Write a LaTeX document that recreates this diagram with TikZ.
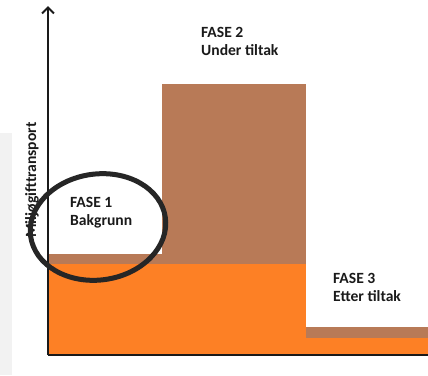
\documentclass[tikz,border=0pt]{standalone}
\usepackage{fontspec}
\setmainfont{Carlito}
\usetikzlibrary{arrows.meta}
\definecolor{panelgrey}{HTML}{F2F2F2}
\definecolor{barbrown}{HTML}{B87A57}
\definecolor{barorange}{HTML}{FD8025}
\definecolor{axisink}{HTML}{1A1A1A}
\definecolor{ringink}{HTML}{262626}
\definecolor{textmain}{HTML}{1A1A1A}

\begin{document}
\begin{tikzpicture}[
  x=1pt, y=-1pt,
  every node/.style={font=\fontsize{15.6}{18}\selectfont\bfseries, text=textmain, inner sep=0pt},
  phase/.style={anchor=base west, align=left},
  axis/.style={axisink, line width=2pt},
]
\useasboundingbox (0, 0) rectangle (428, 375);

% Grey strip at the left edge
\fill[panelgrey] (0, 133) rectangle (12, 375);

% Orange part of the bars
\fill[barorange] (48, 264) rectangle (306, 355);
\fill[barorange] (306, 338) rectangle (428, 355);

% Brown part of the bars
\fill[barbrown] (48, 254) rectangle (162, 264);
\fill[barbrown] (162, 84) rectangle (306, 264);
\fill[barbrown] (306, 327) rectangle (428, 338);

% Axes
\coordinate (origin) at (48, 355);
\coordinate (ytop) at (48, 6);
\coordinate (xend) at (428, 355);
\draw[axis, -{Straight Barb[length=6pt, width=12pt]}] (origin) -- (ytop);
\draw[axis, line width=2.5pt] (origin) -- (xend);

% Axis label
\node[rotate=90, anchor=base] (ylabel) at (36, 180) {Miljøgifttransport};

% Phase labels
\node[phase] (fase1) at (70, 225) {FASE 1\\Bakgrunn};
\node[phase] (fase2) at (201, 55) {FASE 2\\Under tiltak};
\node[phase] (fase3) at (333, 301) {FASE 3\\Etter tiltak};

% Ring round phase 1
\draw[ringink, line width=5pt, rotate around={8:(98, 227)}]
  (98, 227) ellipse [x radius=68pt, y radius=53pt];

\end{tikzpicture}
\end{document}
